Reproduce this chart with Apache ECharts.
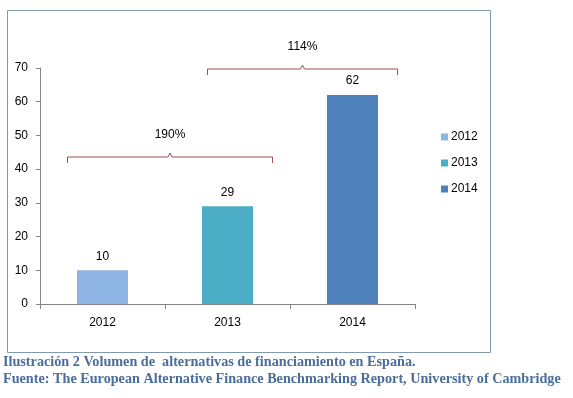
<!DOCTYPE html>
<html>
<head>
<meta charset="utf-8">
<script src="https://cdn.jsdelivr.net/npm/echarts@6/dist/echarts.min.js"></script>
<style>
  html, body { margin: 0; padding: 0; background: #fff; }
  #chart { width: 573px; height: 398px; }
</style>
</head>
<body>
<div id="chart"></div>
<script>
var years = ['2012', '2013', '2014'];
var volumes = [10, 29, 62];
var barColors = ['#8eb4e3', '#4bacc6', '#4f81bd'];
var yTicks = [0, 10, 20, 30, 40, 50, 60, 70];
// brackets: [start (category units), end (category units), level, label]
var brackets = [
  [-0.28, 1.36, 43.6, '190%'],
  [0.84, 2.36, 69.7, '114%']
];
var caption1 = 'Ilustración 2 Volumen de  alternativas de financiamiento en España.';
var caption2 = 'Fuente: The European Alternative Finance Benchmarking Report, University of Cambridge';

var chart = echarts.init(document.getElementById('chart'));

var series = years.map(function (y, i) {
  return {
    name: y,
    type: 'bar',
    barWidth: 51,
    barGap: '-100%',
    itemStyle: { color: barColors[i] },
    label: {
      show: true, position: 'top', distance: 8,
      color: '#000', fontSize: 12, fontFamily: 'Liberation Sans'
    },
    data: years.map(function (c, j) { return j === i ? volumes[i] : '-'; })
  };
});

series.push({
  type: 'custom',
  silent: true,
  data: brackets,
  encode: { x: 0, y: 2 },
  renderItem: function (params, api) {
    var band = api.size([1, 0])[0];
    function px(v) {
      var i = Math.round(v);
      return api.coord([i, 0])[0] + (v - i) * band;
    }
    var x1 = px(api.value(0));
    var x2 = px(api.value(1));
    var y = api.coord([0, api.value(2)])[1];
    var xm = (x1 + x2) / 2;
    var st = { stroke: '#9c4f4d', lineWidth: 1, fill: null };
    return {
      type: 'group',
      children: [
        { type: 'polyline', shape: { points: [[x1, y + 6], [x1, y], [xm - 2, y], [xm, y - 4], [xm + 2, y], [x2, y], [x2, y + 6]] }, style: st },
        { type: 'text', style: {
          text: brackets[params.dataIndex][3], x: xm, y: y - 22,
          textAlign: 'center', textVerticalAlign: 'middle',
          fill: '#000', fontSize: 12, fontFamily: 'Liberation Sans'
        } }
      ]
    };
  }
});

chart.setOption({
  backgroundColor: '#fff',
  animation: false,
  grid: { left: 40, right: 158, top: 68, bottom: 94 },
  legend: {
    orient: 'vertical',
    left: 436, top: 126,
    data: years,
    itemWidth: 7, itemHeight: 7,
    itemGap: 14,
    icon: 'rect',
    textStyle: { color: '#000', fontSize: 12, fontFamily: 'Liberation Sans', padding: [0, 0, 0, -2] }
  },
  xAxis: {
    type: 'category',
    data: years,
    axisLine: { lineStyle: { color: '#868686' } },
    axisTick: { show: true, length: 5, alignWithLabel: false, lineStyle: { color: '#868686' } },
    axisLabel: { color: '#000', fontSize: 12, fontFamily: 'Liberation Sans', margin: 13 }
  },
  yAxis: {
    type: 'value',
    min: yTicks[0], max: yTicks[yTicks.length - 1], interval: 10,
    axisLine: { show: true, lineStyle: { color: '#868686' } },
    axisTick: { show: true, length: 4, lineStyle: { color: '#868686' } },
    splitLine: { show: false },
    axisLabel: { color: '#000', fontSize: 12, fontFamily: 'Liberation Sans', margin: 12 }
  },
  graphic: [
    { type: 'rect', left: 5, top: 8, shape: { width: 483, height: 342 },
      style: { fill: null, stroke: '#8098b0', lineWidth: 1 }, silent: true },
    { type: 'text', left: 3, top: 355,
      style: { text: caption1, fill: '#4a6d9a', font: 'bold 14.2px "Liberation Serif"' } },
    { type: 'text', left: 3, top: 372,
      style: { text: caption2, fill: '#4a6d9a', font: 'bold 14.2px "Liberation Serif"' } }
  ],
  series: series
});
</script>
</body>
</html>
